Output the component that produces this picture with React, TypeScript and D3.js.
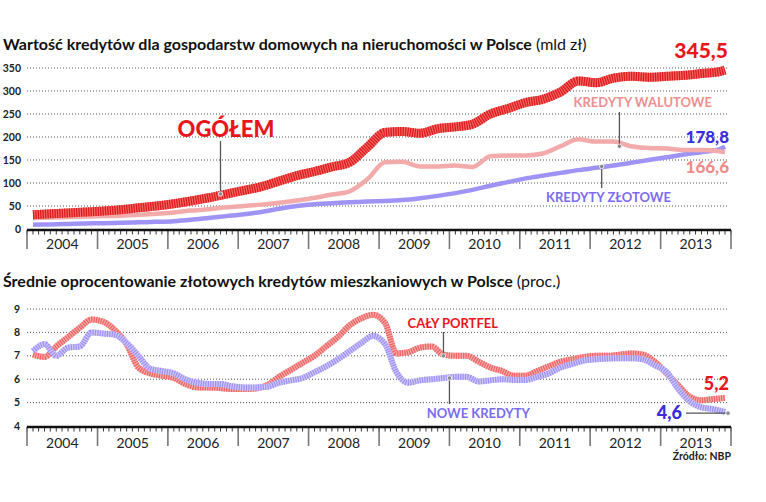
import React from 'react';
import * as d3 from 'd3';

// Wartość kredytów (mld zł) – kwartalnie
const topDates = [
  '2004-01', '2004-04', '2004-07', '2004-10', '2005-01', '2005-04', '2005-07', '2005-10',
  '2006-01', '2006-04', '2006-07', '2006-10', '2007-01', '2007-04', '2007-07', '2007-10',
  '2008-01', '2008-04', '2008-07', '2008-10', '2009-01', '2009-04', '2009-07', '2009-10',
  '2010-01', '2010-04', '2010-07', '2010-10', '2011-01', '2011-04', '2011-07', '2011-10',
  '2012-01', '2012-04', '2012-07', '2012-10', '2013-01', '2013-04', '2013-07', '2013-10',
  '2013-11',
];
const ogolem = [
  31, 33, 35, 37, 39, 42, 46, 50, 55, 61, 68, 76, 84, 92, 104, 116,
  125, 135, 145, 178, 210, 212, 208, 218, 222, 228, 250, 262, 275, 282, 298, 322,
  318, 328, 332, 330, 332, 334, 338, 342, 345.5,
];
const walutowe = [
  24, 25, 26, 27, 28, 29, 31, 33, 36, 40, 43, 47, 50, 53, 57, 62,
  68, 75, 82, 108, 145, 146, 136, 136, 138, 135, 158, 160, 160, 164, 180, 195,
  190, 190, 180, 176, 175, 172, 172, 169, 166.6,
];
const zlotowe = [
  9, 10, 11, 12, 12.5, 13.5, 14.5, 15.5, 17, 20, 24, 28, 32, 37, 44, 50,
  54, 56, 58, 60, 61, 63, 67, 72, 78, 85, 94, 102, 110, 116, 122, 128,
  133, 138, 144, 150, 156, 162, 167, 173, 178.8,
];

// Oprocentowanie (proc.) – co dwa miesiące
const bottomDates = [
  '2004-01', '2004-03', '2004-05', '2004-07', '2004-09', '2004-11',
  '2005-01', '2005-03', '2005-05', '2005-07', '2005-09', '2005-11',
  '2006-01', '2006-03', '2006-05', '2006-07', '2006-09', '2006-11',
  '2007-01', '2007-03', '2007-05', '2007-07', '2007-09', '2007-11',
  '2008-01', '2008-03', '2008-05', '2008-07', '2008-09', '2008-11',
  '2009-01', '2009-03', '2009-05', '2009-07', '2009-09', '2009-11',
  '2010-01', '2010-03', '2010-05', '2010-07', '2010-09', '2010-11',
  '2011-01', '2011-03', '2011-05', '2011-07', '2011-09', '2011-11',
  '2012-01', '2012-03', '2012-05', '2012-07', '2012-09', '2012-11',
  '2013-01', '2013-03', '2013-05', '2013-07', '2013-09', '2013-11',
];
const calyPortfel = [
  7.05, 6.95, 7.4, 7.8, 8.2, 8.55,
  8.45, 8.1, 7.5, 6.5, 6.25, 6.15,
  6.05, 5.8, 5.65, 5.65, 5.62, 5.58,
  5.58, 5.6, 5.75, 6.1, 6.4, 6.7,
  7.0, 7.4, 7.8, 8.3, 8.6, 8.75,
  8.4, 7.1, 7.15, 7.35, 7.4, 7.05,
  7.0, 7.0, 6.75, 6.5, 6.35, 6.15,
  6.15, 6.35, 6.55, 6.75, 6.85, 6.95,
  7.0, 7.0, 7.05, 7.1, 7.05, 6.75,
  6.25, 5.75, 5.25, 5.1, 5.15, 5.2,
];
const noweKredyty = [
  7.2, 7.5, 7.0, 7.35, 7.4, 8.0,
  7.95, 7.9, 7.55, 7.0, 6.45, 6.35,
  6.25, 6.0, 5.85, 5.8, 5.8, 5.7,
  5.65, 5.65, 5.68, 5.85, 5.95, 6.05,
  6.3, 6.55, 6.85, 7.2, 7.55, 7.85,
  7.5, 6.3, 5.85, 5.95, 6.0, 6.05,
  6.1, 6.1, 5.9, 5.95, 6.0, 5.97,
  5.97, 6.1, 6.25, 6.5, 6.65, 6.8,
  6.85, 6.88, 6.9, 6.9, 6.85, 6.6,
  6.3, 5.6, 5.05, 4.8, 4.72, 4.6,
];

const years = ['2004', '2005', '2006', '2007', '2008', '2009', '2010', '2011', '2012', '2013'];
const topTicks = [0, 50, 100, 150, 200, 250, 300, 350];
const bottomTicks = [4, 5, 6, 7, 8, 9];

const FONT = 'Lato, "Open Sans", sans-serif';
const parse = d3.timeParse('%Y-%m');
const monthEnd = (s: string) => d3.timeMonth.offset(parse(s) as Date, 1);

const x = d3.scaleTime().domain([new Date(2004, 0, 1), new Date(2014, 0, 1)]).range([27, 731]);
const yTop = d3.scaleLinear().domain([0, 350]).range([229, 68]);
const yBot = d3.scaleLinear().domain([4, 9]).range([426, 309]);

function Axis({ y0, labelY }: { y0: number; labelY: number }) {
  const months = d3.timeMonth.range(new Date(2004, 0, 1), new Date(2014, 0, 2));
  return (
    <g>
      {months.map((m, i) => (
        <line key={i} x1={x(m)} x2={x(m)} y1={y0} y2={y0 + 4.5} stroke="#222" strokeWidth={0.9} />
      ))}
      {years.map((yr, i) => {
        const d0 = new Date(+yr, 0, 1);
        const d1 = new Date(+yr + 1, 0, 1);
        return (
          <g key={yr}>
            <line x1={x(d0)} x2={x(d0)} y1={y0} y2={y0 + 19} stroke="#777" strokeWidth={1.6} />
            {i === years.length - 1 && (
              <line x1={x(d1)} x2={x(d1)} y1={y0} y2={y0 + 19} stroke="#777" strokeWidth={1.6} />
            )}
            <text x={(x(d0) + x(d1)) / 2} y={labelY} textAnchor="middle" fontSize={14} fill="#222">
              {yr}
            </text>
          </g>
        );
      })}
      <line x1={27} x2={731} y1={y0} y2={y0} stroke="#111" strokeWidth={2.6} />
    </g>
  );
}

function Hatched({ d, base, stripe, width }: { d: string; base: string; stripe: string; width: number }) {
  return (
    <g fill="none" strokeLinejoin="round">
      <path d={d} stroke={base} strokeWidth={width} />
      <path d={d} stroke={stripe} strokeWidth={width} strokeDasharray="1.3 1.1" />
    </g>
  );
}

function Leader({ x1, y1, x2, y2 }: { x1: number; y1: number; x2: number; y2: number }) {
  return (
    <g>
      <line x1={x1} y1={y1} x2={x2} y2={y2} stroke="#555" strokeWidth={1.3} />
      <circle cx={x2} cy={y2} r={2.2} fill="#888" stroke="#fff" strokeWidth={0.8} />
    </g>
  );
}

export default function App() {
  const topLine = (vals: number[]) =>
    d3.line<number>()
      .x((_, i) => x(monthEnd(topDates[i])))
      .y((v) => yTop(v))
      .curve(d3.curveMonotoneX)(vals) as string;
  const botLine = (vals: number[]) =>
    d3.line<number>()
      .x((_, i) => x(monthEnd(bottomDates[i])))
      .y((v) => yBot(v))
      .curve(d3.curveMonotoneX)(vals) as string;

  const ax = (s: string) => x(parse(s) as Date);

  return (
    <svg width={766} height={502} style={{ position: 'absolute', left: 0, top: 0, background: '#fff' }} fontFamily={FONT}>
      {/* górny wykres */}
      <text x={3} y={50} fontSize={16} fill="#111">
        <tspan fontWeight={700}>Wartość kredytów dla gospodarstw domowych na nieruchomości w Polsce</tspan>
        <tspan> (mld zł)</tspan>
      </text>
      {topTicks.map((t) => (
        <g key={t}>
          {t > 0 && (
            <line x1={27} x2={728} y1={yTop(t)} y2={yTop(t)} stroke="#555" strokeWidth={1} strokeDasharray="1 2" />
          )}
          <text x={21} y={yTop(t)} dy="0.35em" textAnchor="end" fontSize={10.5} fontWeight={700} fill="#222">
            {t}
          </text>
        </g>
      ))}
      <path d={topLine(zlotowe)} fill="none" stroke="#9f94f6" strokeWidth={4.5} strokeLinejoin="round" />
      <path d={topLine(walutowe)} fill="none" stroke="#f2aaaa" strokeWidth={4.5} strokeLinejoin="round" />
      <Hatched d={topLine(ogolem)} base="#f46a6a" stripe="#dc1a1a" width={9} />
      <Axis y0={230} labelY={249} />

      <Leader x1={ax('2006-10')} y1={141} x2={ax('2006-10')} y2={yTop(76)} />
      <text x={226} y={137} textAnchor="middle" fontSize={22} fontWeight={900} fill="#e8161c">OGÓŁEM</text>
      <text x={728} y={58} textAnchor="end" fontSize={21} fontWeight={900} fill="#e8161c">345,5</text>

      <Leader x1={ax('2012-06')} y1={112} x2={ax('2012-06')} y2={yTop(180)} />
      <text x={712} y={107} textAnchor="end" fontSize={13} fontWeight={700} fill="#ee8f8f">KREDYTY WALUTOWE</text>
      <text x={729} y={143} textAnchor="end" fontSize={17} fontWeight={900} fill="#3a2cdc">178,8</text>
      <text x={729} y={173} textAnchor="end" fontSize={17} fontWeight={900} fill="#ef8c8c">166,6</text>

      <Leader x1={ax('2012-03')} y1={188} x2={ax('2012-03')} y2={yTop(136)} />
      <text x={671} y={202} textAnchor="end" fontSize={13} fontWeight={700} fill="#7a6cf0">KREDYTY ZŁOTOWE</text>

      {/* dolny wykres */}
      <text x={3} y={287} fontSize={16} fill="#111">
        <tspan fontWeight={700}>Średnie oprocentowanie złotowych kredytów mieszkaniowych w Polsce</tspan>
        <tspan> (proc.)</tspan>
      </text>
      {bottomTicks.map((t) => (
        <g key={t}>
          {t > 4 && (
            <line x1={27} x2={728} y1={yBot(t)} y2={yBot(t)} stroke="#555" strokeWidth={1} strokeDasharray="1 2" />
          )}
          <text x={20} y={yBot(t)} dy="0.35em" textAnchor="end" fontSize={10.5} fontWeight={700} fill="#222">
            {t}
          </text>
        </g>
      ))}
      <Hatched d={botLine(calyPortfel)} base="#f7b0b0" stripe="#ee6262" width={6} />
      <Hatched d={botLine(noweKredyty)} base="#d2ccfb" stripe="#9d90f5" width={6} />
      <Axis y0={427} labelY={448} />

      <Leader x1={ax('2009-12')} y1={332} x2={ax('2009-12')} y2={yBot(7.0)} />
      <text x={498} y={328} textAnchor="end" fontSize={13} fontWeight={700} fill="#e8161c">CAŁY PORTFEL</text>
      <Leader x1={ax('2010-01')} y1={404} x2={ax('2010-01')} y2={yBot(6.05)} />
      <text x={530} y={418} textAnchor="end" fontSize={13} fontWeight={700} fill="#7a6cf0">NOWE KREDYTY</text>

      <text x={729} y={390} textAnchor="end" fontSize={18} fontWeight={900} fill="#e8161c">5,2</text>
      <Leader x1={686} y1={yBot(4.55)} x2={728} y2={yBot(4.55)} />
      <text x={682} y={419} textAnchor="end" fontSize={18} fontWeight={900} fill="#3a2cdc">4,6</text>

      <text x={731} y={460} textAnchor="end" fontSize={10.5} fontWeight={700} fill="#222">Źródło: NBP</text>
    </svg>
  );
}
